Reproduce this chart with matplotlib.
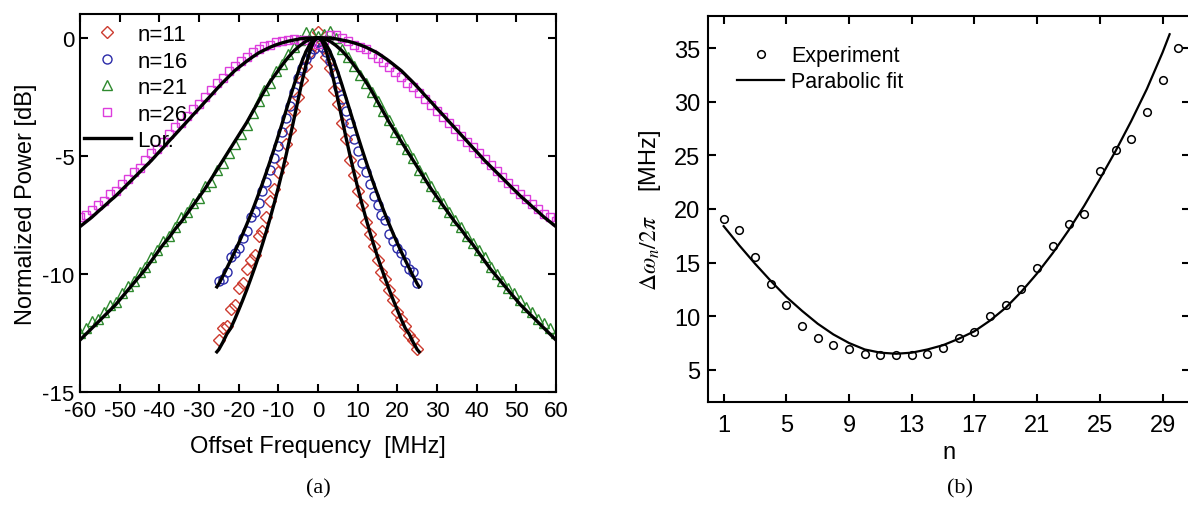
import numpy as np
import matplotlib.pyplot as plt

plt.rcParams['font.family'] = ['Liberation Sans', 'DejaVu Sans']
plt.rcParams['mathtext.fontset'] = 'stix'
plt.rcParams['axes.unicode_minus'] = False

# ---- panel (a): normalized power spectra [dB] ----
f_narrow = np.arange(-25, 26, 1)          # MHz, n=11 and n=16
f_wide = np.arange(-60, 60.1, 1.5)        # MHz, n=21 and n=26

p11 = [-12.8, -12.3, -12.2, -11.5, -11.3, -10.6, -10.4, -9.8, -9.4, -9.2,
       -8.4, -8.2, -7.6, -6.9, -6.4, -5.7, -5.3, -4.5, -3.9, -3.1,
       -2.5, -1.8, -1.2, -0.6, -0.3, 0.25, -0.4, -0.8, -1.3, -2.2,
       -2.8, -3.6, -4.3, -5.2, -5.8, -6.5, -7.1, -7.8, -8.3, -8.8,
       -9.4, -9.9, -10.2, -10.7, -11.1, -11.6, -11.9, -12.2, -12.6, -12.8,
       -13.2]
p16 = [-10.3, -10.2, -9.9, -9.3, -9.1, -8.9, -8.5, -8.2, -7.6, -7.4,
       -7.0, -6.5, -6.1, -5.6, -5.1, -4.6, -4.0, -3.4, -2.9, -2.3,
       -1.7, -1.3, -0.9, -0.7, -0.5, -0.2, -0.4, -0.6, -1.0, -1.5,
       -2.1, -2.6, -3.1, -3.6, -4.3, -4.8, -5.3, -5.7, -6.2, -6.7,
       -7.1, -7.5, -7.7, -8.3, -8.6, -8.9, -9.1, -9.5, -9.8, -9.9,
       -10.4]
p21 = [-12.5, -12.3, -12.0, -11.9, -11.6, -11.3, -11.2, -10.8, -10.5, -10.3,
       -9.9, -9.7, -9.3, -9.0, -8.6, -8.4, -8.0, -7.6, -7.4, -7.0,
       -6.8, -6.3, -6.1, -5.6, -5.3, -4.9, -4.5, -4.1, -3.7, -3.2,
       -2.7, -2.2, -1.9, -1.4, -1.1, -0.7, -0.4, -0.1, 0.25, 0.2,
       0.05,
       0.15, 0.3, 0.0, -0.5, -0.8, -1.2, -1.6, -1.9, -2.3, -2.7,
       -3.1, -3.5, -4.0, -4.3, -4.7, -5.1, -5.6, -5.9, -6.3, -6.7,
       -7.0, -7.4, -7.7, -8.0, -8.4, -8.7, -9.0, -9.3, -9.7, -10.0,
       -10.3, -10.6, -10.8, -11.1, -11.4, -11.6, -11.9, -12.1, -12.3, -12.5]
p26 = [-7.6, -7.5, -7.3, -7.1, -6.9, -6.6, -6.5, -6.2, -6.0, -5.7,
       -5.5, -5.2, -4.9, -4.7, -4.4, -4.1, -3.8, -3.6, -3.3, -3.0,
       -2.8, -2.5, -2.2, -1.9, -1.7, -1.4, -1.2, -1.0, -0.8, -0.6,
       -0.5, -0.35, -0.3, -0.2, -0.15, -0.1, -0.05, -0.1, -0.1, -0.2,
       -0.25,
       -0.1, 0.1, 0.1, 0.0, -0.15, -0.3, -0.4, -0.5, -0.7, -0.85,
       -1.05, -1.25, -1.45, -1.65, -1.9, -2.1, -2.35, -2.6, -2.85, -3.1,
       -3.35, -3.6, -3.85, -4.15, -4.4, -4.65, -4.9, -5.15, -5.4, -5.65,
       -5.9, -6.15, -6.4, -6.6, -6.85, -7.05, -7.25, -7.45, -7.6, -7.75]

# Lorentzian fits, one half (|f|), mirrored when drawn
fit_f_narrow = [0, 1, 2, 3, 4, 5, 6, 7, 8, 9, 10, 11, 12, 13, 14, 15, 16,
                17, 18, 19, 20, 21, 22, 23, 24, 25, 25.5]
fit11 = [0, -0.14, -0.54, -1.13, -1.84, -2.62, -3.40, -4.18, -4.94, -5.66,
         -6.34, -6.99, -7.60, -8.19, -8.74, -9.27, -9.76, -10.23, -10.69,
         -11.12, -11.53, -11.93, -12.30, -12.55, -12.9, -13.2, -13.3]
fit16 = [0, -0.07, -0.27, -0.58, -0.99, -1.46, -1.98, -2.52, -3.06, -3.61,
         -4.15, -4.68, -5.19, -5.69, -6.17, -6.63, -7.08, -7.51, -7.92,
         -8.32, -8.70, -9.07, -9.42, -9.76, -10.10, -10.42, -10.55]
fit_f_wide = np.arange(0, 60.1, 1.5)
fit21 = [0, -0.05, -0.15, -0.33, -0.55, -0.83, -1.15, -1.5, -1.85, -2.25,
         -2.7, -3.15, -3.6, -4.0, -4.4, -4.8, -5.2, -5.6, -6.0, -6.4,
         -6.75, -7.1, -7.45, -7.8, -8.1, -8.45, -8.75, -9.1, -9.45, -9.8,
         -10.1, -10.4, -10.7, -11.0, -11.3, -11.55, -11.8, -12.05, -12.3, -12.55,
         -12.8]
fit26 = [0, -0.01, -0.02, -0.05, -0.1, -0.15, -0.22, -0.3, -0.4, -0.52,
         -0.65, -0.82, -1.0, -1.2, -1.4, -1.65, -1.9, -2.17, -2.45, -2.72,
         -3.0, -3.27, -3.55, -3.82, -4.1, -4.37, -4.65, -4.92, -5.2, -5.45,
         -5.7, -5.95, -6.2, -6.45, -6.7, -6.92, -7.15, -7.37, -7.6, -7.8,
         -8.0]

# ---- panel (b): linewidth vs mode number ----
n_exp = list(range(1, 31))
dw_exp = [19.05, 18.05, 15.5, 13.05, 11.06, 9.07, 8.0, 7.3, 6.95, 6.45,
          6.36, 6.36, 6.36, 6.52, 7.0, 8.0, 8.5, 10.06, 11.03, 12.55,
          14.54, 16.53, 18.58, 19.54, 23.56, 25.5, 26.54, 29.06, 32.04, 35.05]
n_fit = list(range(1, 30)) + [29.45]
dw_fit = [18.4, 16.6, 14.9, 13.3, 11.8, 10.5, 9.3, 8.3, 7.5, 6.9,
          6.6, 6.5, 6.6, 6.9, 7.3, 7.9, 8.6, 9.6, 10.8, 12.3,
          14.0, 15.9, 18.0, 20.3, 22.8, 25.4, 28.2, 31.2, 34.6, 36.3]


def mirror(fh, ph):
    fh = np.asarray(fh, dtype=float)
    ph = np.asarray(ph, dtype=float)
    return np.concatenate([-fh[::-1], fh[1:]]), np.concatenate([ph[::-1], ph[1:]])


W, H = 1188, 510
fig = plt.figure(figsize=(W / 100, H / 100), dpi=100)
ax1 = fig.add_axes([80 / W, 1 - 393 / H, 476 / W, 378 / H])
ax2 = fig.add_axes([708 / W, 1 - 403 / H, 482 / W, 386 / H])

mk = dict(linestyle='none', mfc='none', mew=1.0)
ax1.plot(f_narrow, p11, marker='D', ms=6.5, mec='#cc3b2f', label='n=11', **mk)
ax1.plot(f_narrow, p16, marker='o', ms=6.5, mec='#2a2aa8', label='n=16', **mk)
ax1.plot(f_wide, p21, marker='^', ms=7, mec='#2e8a2e', label='n=21', **mk)
ax1.plot(f_wide, p26, marker='s', ms=6, mec='#dd3ddd', label='n=26', **mk)

for i, (fh, ph) in enumerate([(fit_f_narrow, fit11), (fit_f_narrow, fit16),
                              (fit_f_wide, fit21), (fit_f_wide, fit26)]):
    xf, yf = mirror(fh, ph)
    ax1.plot(xf, yf, color='black', lw=2.4, label='Lor.' if i == 0 else None)

ax1.set_xlim(-60, 60)
ax1.set_ylim(-15, 1)
ax1.set_xticks(np.arange(-60, 61, 10))
ax1.set_yticks([0, -5, -10, -15])
ax1.set_xlabel('Offset Frequency  [MHz]', fontsize=17, labelpad=10)
ax1.set_ylabel('Normalized Power [dB]', fontsize=17, labelpad=4)
ax1.legend(loc='upper left', bbox_to_anchor=(-6 / 476, 1), frameon=False,
           fontsize=16, handlelength=2.1, handletextpad=0.3, borderaxespad=0.0,
           borderpad=0.45, labelspacing=0.25, numpoints=1)

ax2.plot(n_exp, dw_exp, linestyle='none', marker='o', ms=5.5, mfc='none',
         mec='black', mew=1.1, label='Experiment')
ax2.plot(n_fit, dw_fit, color='black', lw=1.6, label='Parabolic fit')
ax2.set_xlim(0, 30.75)
ax2.set_ylim(2, 38)
ax2.set_xticks([1, 5, 9, 13, 17, 21, 25, 29])
ax2.set_yticks([5, 10, 15, 20, 25, 30, 35])
ax2.set_xlabel('n', fontsize=17, labelpad=4)
ax2.set_ylabel(r'$\Delta\omega_n/2\pi$' + '    [MHz]', fontsize=17, labelpad=8)
ax2.legend(loc='upper left', frameon=False, fontsize=15.5, handlelength=2.2,
           handletextpad=0.3, borderaxespad=0.9, borderpad=0.45,
           labelspacing=0.25, numpoints=1)

for ax, xpad, ypad, size in [(ax1, 6, 4, 16), (ax2, 8.5, 5.5, 17)]:
    for s in ax.spines.values():
        s.set_linewidth(1.5)
    ax.tick_params(direction='in', length=6, width=1.5, top=True, right=True,
                   labelsize=size)
    ax.tick_params(axis='x', pad=xpad)
    ax.tick_params(axis='y', pad=ypad)

fig.text(318 / W, 1 - 489 / H, '(a)', ha='center', va='center',
         family='Liberation Serif', fontsize=16)
fig.text(960 / W, 1 - 489 / H, '(b)', ha='center', va='center',
         family='Liberation Serif', fontsize=16)

fig.savefig('out.png', dpi=100)
